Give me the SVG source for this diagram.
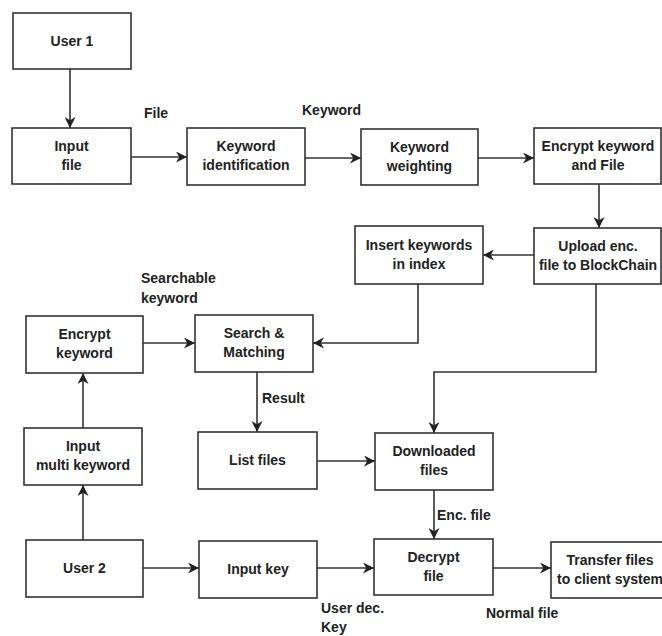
<svg xmlns="http://www.w3.org/2000/svg" width="662" height="636" viewBox="0 0 662 636">
<style>
.box{fill:#fff;stroke:#333;stroke-width:1.6}
.t{font-family:"Liberation Sans",Arial,sans-serif;font-size:14px;font-weight:bold;fill:#222;text-anchor:middle}
.l{font-family:"Liberation Sans",Arial,sans-serif;font-size:14px;font-weight:bold;fill:#222}
.c{fill:none;stroke:#333;stroke-width:1.6}
</style>
<defs>
<marker id="ah" markerUnits="userSpaceOnUse" markerWidth="11" markerHeight="11" refX="10" refY="5" orient="auto" viewBox="0 0 10 10">
<path d="M0,0 L10,5 L0,10 L3,5 z" fill="#222"/>
</marker>
</defs>
<rect width="662" height="636" fill="#fff"/>
<g id="connectors">
<path class="c" marker-end="url(#ah)" d="M70,69 V128"/>
<path class="c" marker-end="url(#ah)" d="M131,157 H187"/>
<path class="c" marker-end="url(#ah)" d="M305,158 H361"/>
<path class="c" marker-end="url(#ah)" d="M478,158 H534"/>
<path class="c" marker-end="url(#ah)" d="M599,184 V228"/>
<path class="c" marker-end="url(#ah)" d="M534,255 H483"/>
<path class="c" marker-end="url(#ah)" d="M418,284 V343 H313"/>
<path class="c" marker-end="url(#ah)" d="M143,343 H195"/>
<path class="c" marker-end="url(#ah)" d="M596,284 V372 H434 V433"/>
<path class="c" marker-end="url(#ah)" d="M257,372 V432"/>
<path class="c" marker-end="url(#ah)" d="M83,428 V373"/>
<path class="c" marker-end="url(#ah)" d="M83,540 V485"/>
<path class="c" marker-end="url(#ah)" d="M317,461 H375"/>
<path class="c" marker-end="url(#ah)" d="M143,568 H199"/>
<path class="c" marker-end="url(#ah)" d="M434,490 V539"/>
<path class="c" marker-end="url(#ah)" d="M317,568 H374"/>
<path class="c" marker-end="url(#ah)" d="M493,568 H551"/>
</g>
<g id="labels">
<text class="l" x="144" y="118">File</text>
<text class="l" x="302" y="115">Keyword</text>
<text class="l" x="141" y="283">Searchable</text>
<text class="l" x="141" y="303">keyword</text>
<text class="l" x="262" y="403">Result</text>
<text class="l" x="437" y="520">Enc. file</text>
<text class="l" x="321" y="613">User dec.</text>
<text class="l" x="321" y="632">Key</text>
<text class="l" x="486" y="618">Normal file</text>
</g>
<g id="user1"><rect class="box" x="13" y="13" width="118" height="56"/><text class="t" x="72" y="46">User 1</text></g>
<g id="input-file"><rect class="box" x="12" y="128" width="119" height="56"/><text class="t" x="71.5" y="151">Input</text><text class="t" x="71.5" y="170">file</text></g>
<g id="keyword-identification"><rect class="box" x="187" y="128" width="118" height="57"/><text class="t" x="246" y="151">Keyword</text><text class="t" x="246" y="170">identification</text></g>
<g id="keyword-weighting"><rect class="box" x="361" y="129" width="117" height="56"/><text class="t" x="419.5" y="152">Keyword</text><text class="t" x="419.5" y="171">weighting</text></g>
<g id="encrypt-keyword-file"><rect class="box" x="534" y="128" width="127" height="56"/><text class="t" x="598" y="151">Encrypt keyword</text><text class="t" x="598" y="170">and File</text></g>
<g id="upload"><rect class="box" x="534" y="228" width="127" height="56"/><text class="t" x="598" y="251">Upload enc.</text><text class="t" x="598" y="270">file to BlockChain</text></g>
<g id="insert-keywords"><rect class="box" x="355" y="226" width="128" height="58"/><text class="t" x="419" y="250">Insert keywords</text><text class="t" x="419" y="269">in index</text></g>
<g id="encrypt-keyword"><rect class="box" x="26" y="316" width="117" height="57"/><text class="t" x="84.5" y="339">Encrypt</text><text class="t" x="84.5" y="358">keyword</text></g>
<g id="search-matching"><rect class="box" x="195" y="315" width="118" height="57"/><text class="t" x="254" y="338">Search &amp;</text><text class="t" x="254" y="357">Matching</text></g>
<g id="input-multi-keyword"><rect class="box" x="24" y="428" width="118" height="57"/><text class="t" x="83" y="451">Input</text><text class="t" x="83" y="470">multi keyword</text></g>
<g id="list-files"><rect class="box" x="198" y="432" width="119" height="57"/><text class="t" x="257.5" y="465">List files</text></g>
<g id="downloaded-files"><rect class="box" x="375" y="433" width="118" height="57"/><text class="t" x="434" y="456">Downloaded</text><text class="t" x="434" y="475">files</text></g>
<g id="user2"><rect class="box" x="26" y="540" width="117" height="57"/><text class="t" x="84.5" y="573">User 2</text></g>
<g id="input-key"><rect class="box" x="199" y="541" width="118" height="57"/><text class="t" x="258" y="574">Input key</text></g>
<g id="decrypt-file"><rect class="box" x="374" y="539" width="119" height="56"/><text class="t" x="433.5" y="562">Decrypt</text><text class="t" x="433.5" y="581">file</text></g>
<g id="transfer-files"><rect class="box" x="551" y="542" width="118" height="56"/><text class="t" x="610" y="565">Transfer files</text><text class="t" x="610" y="584">to client system</text></g>
</svg>
